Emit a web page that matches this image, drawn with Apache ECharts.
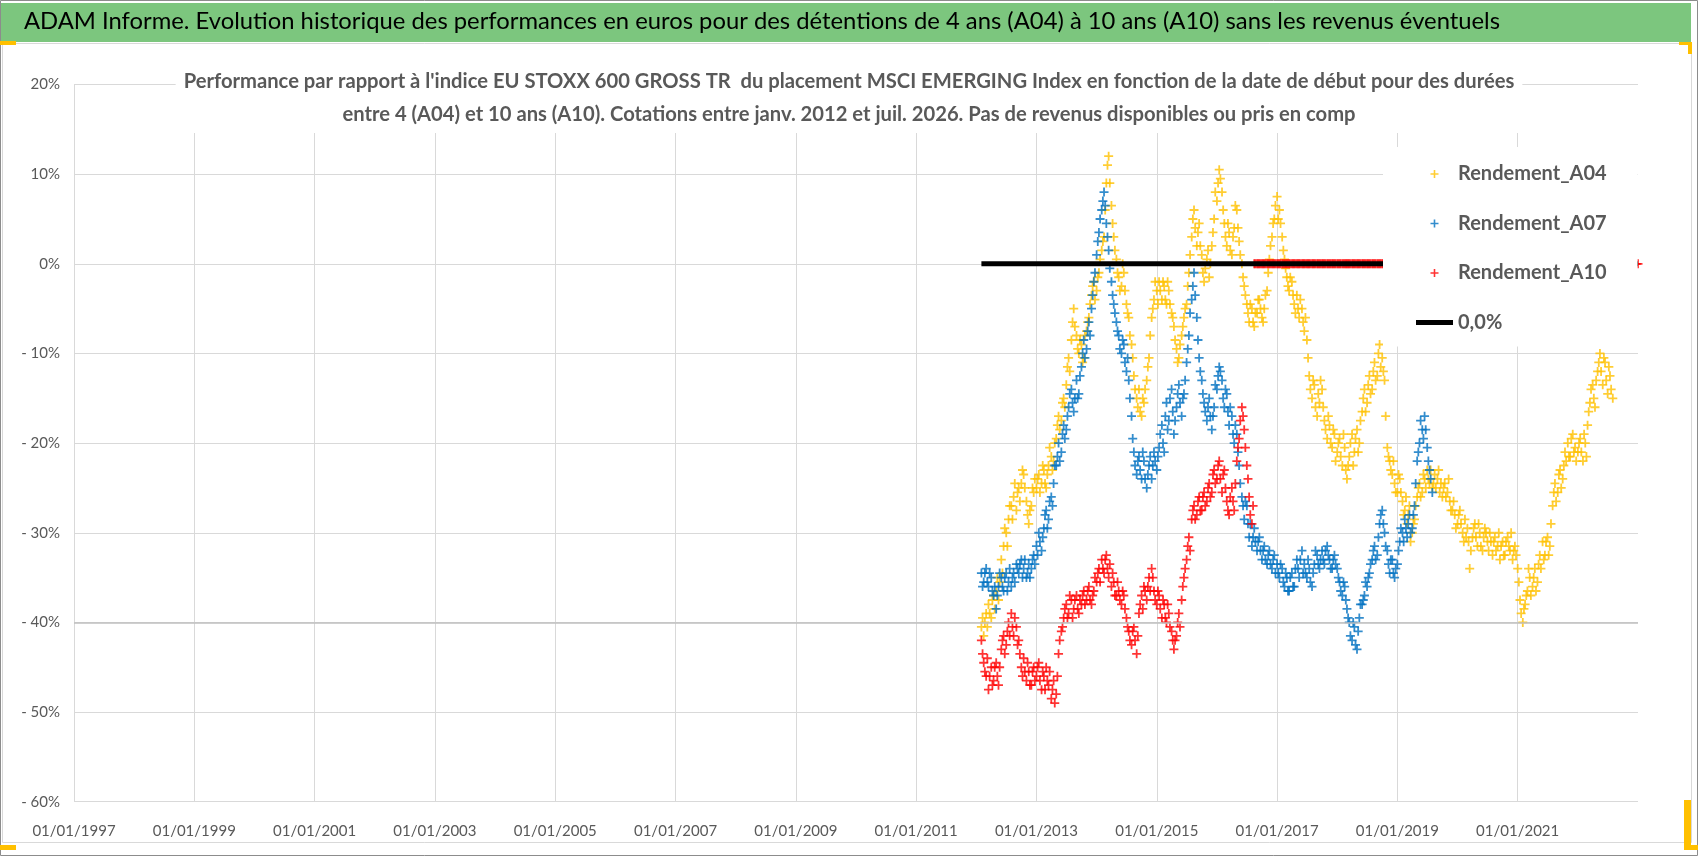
<!DOCTYPE html>
<html>
<head>
<meta charset="utf-8">
<title>ADAM Informe - MSCI EMERGING vs EU STOXX 600</title>
<script src="https://cdn.jsdelivr.net/npm/echarts@6/dist/echarts.min.js"></script>
<style>
html, body { margin: 0; padding: 0; background: #fff; }
#chart { width: 1698px; height: 856px; }
</style>
</head>
<body>
<div id="chart"></div>
<script>
// relevés hebdomadaires, en %, à partir de février 2012
// aXX  : relevés du 1er et du 15 de chaque mois
// aXXw : relevés du 8 et du 22 de chaque mois
var startDate = '2012-02-01';

var a04 = [
  -40.5,-41.5,-39,-38,-39.5,-37,-36.5,-37.5,-33,-31.5,-30,-28.5,-27,-26,-27.5,-25,-24.5,-23.5,-26.5,-29,-27,-25.5, // 2012
  -25,-23.5,-24.5,-23,-25,-22.5,-21.5,-22,-19.5,-17,-17.5,-15,-13.5,-10.5,-8.5,-5,-8,-10,-9,-10.5,-7.5,-6,-3.5,-2, // 2013
  -3,-1,1.5,3,9,12,6.5,3,0.5,-1.5,-2.5,-1,-4.5,-6,-9,-12.5,-15,-14,-17,-15.5,-13,-10.5,-6,-4, // 2014
  -3,-2,-4,-2.5,-4.5,-3,-5.5,-7,-9.5,-10.5,-8,-6,-4.5,-1,3,6,2,4.5,1,-2,0.5,-1.5,2,5, // 2015
  7,10.5,8,4.5,2,3.5,1,4,6,2.5,0,-2.5,-4.5,-6.5,-5,-7,-5.5,-4,-6,-5,-3,0.5,3,5, // 2016
  7.5,6,3,0.5,-1.5,-3,-2,-4.5,-3.5,-6,-5,-7.5,-8.5,-12.5,-15,-13.5,-17,-15.5,-14,-17.5,-19.5,-18,-20.5,-19, // 2017
  -21,-19.5,-22.5,-20.5,-24,-21.5,-19,-21,-18.5,-20,-16.5,-14,-15.5,-12.5,-14,-11,-12.5,-9,-10.5,-13,-20.5,-22,-23.5,-24.5, // 2018
  -25.5,-24,-26.5,-27.5,-29,-27,-30,-28.5,-26,-24.5,-25.5,-24,-23,-24.5,-25,-23.5,-24,-25.5,-26,-24.5,-25.5,-26.5,-27.5,-28, // 2019
  -29,-27.5,-30,-28.5,-29.5,-34,-30.5,-29,-31.5,-30,-32,-29.5,-31,-30,-32.5,-30.5,-31.5,-33,-31,-32.5,-30.5,-32,-33,-31.5, // 2020
  -34,-37.5,-40,-38,-36.5,-35,-36,-34,-35.5,-32.5,-31,-32.5,-30.5,-31.5,-27,-24.5,-25.5,-23,-24,-21,-20,-21.5,-19,-20.5, // 2021
  -21,-19.5,-22,-20,-18,-15.5,-13.5,-16,-12,-10,-13.5,-11,-14.5,-12.5,-15 // 2022
];
var a04w = [
  -39.5,-40,-40.5,-39,-37.5,-38.5,-35,-35.5,-34.5,-29.5,-31.5,-27,-28.5,-24.5,-25.5,-26.5,-23,-25,-28,-27.5,-25,-24, // 2012
  -24,-25.5,-22.5,-24.5,-23.5,-20.5,-23,-20,-18,-18.5,-15.5,-16,-11.5,-12,-6.5,-7,-9.5,-8.5,-11,-8,-6.5,-4.5,-2.5,-4, // 2013
  -1.5,0.5,2.5,6,11,9,4.5,1.5,-1,-3,0,-3,-5.5,-8,-10.5,-14,-16,-16.5,-15,-14,-11.5,-8,-5,-2, // 2014
  -4.5,-3,-2,-4,-2,-4.5,-6,-8.5,-11,-9,-7,-5,-2.5,1,5,4,3.5,2,-1,-0.5,1.5,0,3.5,8, // 2015
  9,9.5,6,3,4.5,1.5,3,6.5,4,1,-1.5,-3.5,-5.5,-4.5,-6.5,-5.5,-4,-5,-6.5,-3.5,-1,2,4.5,6.5, // 2016
  5,4.5,1.5,-0.5,-2.5,-1.5,-3.5,-5.5,-5,-4,-6.5,-6,-10.5,-14,-13,-16,-14.5,-13,-16,-18.5,-17,-20,-18.5,-22, // 2017
  -20,-21.5,-19,-23,-22.5,-20,-22.5,-19.5,-21,-17.5,-15,-16.5,-13.5,-14.5,-12,-13,-10,-11.5,-12,-17,-21.5,-23,-22,-25.5, // 2018
  -23.5,-25.5,-28,-26,-28,-31,-29,-27,-25,-26,-23.5,-25,-24,-23,-24.5,-25,-23,-24.5,-25,-26,-24,-27.5,-26.5,-29.5, // 2019
  -28,-29,-31,-30.5,-31,-32,-29.5,-30.5,-29,-31.5,-30.5,-30,-32,-31,-31,-32,-30,-31.5,-32.5,-31,-31.5,-30,-32,-32.5, // 2020
  -35.5,-39,-38.5,-37,-34,-37,-35,-36.5,-33.5,-34,-33,-31,-32.5,-29,-25.5,-26.5,-23.5,-25,-22.5,-22,-21.5,-19.5,-21,-22, // 2021
  -20,-21,-19,-21.5,-16.5,-14,-15,-13,-11,-12,-10.5,-13,-11.5,-14 // 2022
];

var a07 = [
  -34.5,-35.5,-34,-36,-35,-37,-38.5,-36,-35,-36.5,-34.5,-35.5,-36,-34.5,-33.5,-34.5,-33,-34,-35,-33.5,-34,-32.5, // 2012
  -31.5,-30,-32,-29.5,-27.5,-28.5,-26,-24.5,-22.5,-20,-21,-18,-18.5,-16,-14,-16.5,-13,-14.5,-11.5,-8.5,-9.5,-6.5,-5,-2, // 2013
  1,3.5,6,8,4.5,1.5,-2,-4.5,-6.5,-8,-10,-9,-12,-13,-17,-21,-23.5,-21.5,-24,-22,-25,-22.5,-24,-21, // 2014
  -23,-20.5,-18,-21,-15.5,-17.5,-14,-19,-16,-13.5,-17,-14.5,-11,-8,-4,-1,-6,-10.5,-13,-15.5,-17.5,-15,-18.5,-16, // 2015
  -14,-11.5,-13,-16,-14.5,-18,-17,-20,-19,-22.5,-26,-28.5,-27,-30.5,-31.5,-29.5,-32,-30.5,-33,-31.5,-33.5,-32,-34,-32.5, // 2016
  -33.5,-35,-34,-36,-35,-36.5,-34.5,-36,-33,-35,-32,-33.5,-35,-34,-36,-33.5,-32.5,-34,-32,-33.5,-31.5,-33,-34,-32.5, // 2017
  -34,-35.5,-37,-36,-38.5,-40,-42,-40.5,-43,-39.5,-38,-37,-36,-34.5,-33,-31.5,-32.5,-29,-27.5,-30,-32,-34.5,-33,-35, // 2018
  -33.5,-31,-30,-28.5,-30.5,-28,-29.5,-27,-22,-20,-18.5,-17,-20.5,-23,-25.5 // 2019
];
var a07w = [
  -36,-34.5,-35.5,-34.5,-36.5,-36,-37,-34.5,-36,-35,-36.5,-34,-35,-35.5,-34,-33.5,-35,-33,-34.5,-35,-33,-33.5, // 2012
  -32.5,-31,-30.5,-28,-29.5,-26.5,-27,-22.5,-21.5,-22,-19,-19.5,-17,-14.5,-15.5,-15,-15,-12.5,-10,-10.5,-7.5,-8,-3.5,-1, // 2013
  2.5,5,7,6.5,3,-0.5,-3.5,-5.5,-7.5,-9.5,-8.5,-11,-10.5,-15,-19.5,-22.5,-22,-23,-21,-24,-23.5,-21.5,-22.5,-22, // 2014
  -21.5,-19,-20,-17,-18.5,-15,-16.5,-17.5,-14.5,-15.5,-15,-13,-9.5,-5.5,-2.5,-3.5,-8.5,-12,-14.5,-16.5,-16,-17,-17,-13.5, // 2015
  -12.5,-12,-15,-14,-16.5,-16,-19,-18,-21,-24.5,-27,-26.5,-29,-29,-30.5,-31,-31,-32,-32,-33,-32.5,-33.5,-33,-34.5, // 2016
  -34.5,-33.5,-35.5,-34.5,-36.5,-35,-36,-34,-34,-33,-34.5,-34.5,-33,-35.5,-34.5,-32,-33.5,-33,-33,-32,-32.5,-34,-33,-33.5, // 2017
  -35,-36.5,-35.5,-37.5,-39.5,-41.5,-40,-42.5,-41,-38,-37.5,-35.5,-35,-33.5,-32,-33,-30.5,-28,-29,-31.5,-33.5,-33,-34.5,-34, // 2018
  -32,-29.5,-31,-29.5,-29,-30,-28,-24.5,-21,-17.5,-19.5,-18.5,-22,-24 // 2019
];

var a10 = [
  -42,-44.5,-46,-47.5,-45,-46.5,-44.5,-47,-43,-41.5,-42.5,-40,-39,-41.5,-40.5,-42,-45,-44,-46.5,-45.5,-47,-45, // 2012
  -46,-44.5,-47.5,-46,-45,-47,-48.5,-46.5,-48,-43.5,-41,-39.5,-38,-39,-37.5,-38.5,-37,-39,-38,-36.5,-37.5,-36,-38,-36.5, // 2013
  -35.5,-34,-33,-34.5,-32.5,-35,-36,-35.5,-37,-36.5,-38,-37,-39.5,-41,-42.5,-40.5,-43.5,-39,-37,-36,-37.5,-35,-34,-36.5, // 2014
  -38,-37,-39.5,-38,-40,-39,-41,-43,-41.5,-39,-37.5,-35,-33,-30.5,-28.5,-27,-28,-26,-27.5,-25.5,-26.5,-24.5,-25.5,-23, // 2015
  -24,-22,-25.5,-23,-26.5,-28,-25,-27.5,-22,-19.5,-16,-18.5,-22.5,-26,-29,0,0,0,0,0,0,0,0,0, // 2016
  0,0,0,0,0,0,0,0,0,0,0,0,0,0,0,0,0,0,0,0,0,0,0,0, // 2017
  0,0,0,0,0,0,0,0,0,0,0,0,0,0,0,0,0,0,0,0,0,0,0,0, // 2018
  0,0,0,0,0,0,0,0,0,0,0,0,0,0,0,0,0,0,0,0,0,0,0,0, // 2019
  0,0,0,0,0,0,0,0,0,0,0,0,0,0,0,0,0,0,0,0,0,0,0,0, // 2020
  0,0,0,0,0,0,0,0,0,0,0,0,0,0,0,0,0,0,0,0,0,0,0,0, // 2021
  0,0,0,0,0,0,0,0,0,0,0,0,0,0,0,0,0,0,0,0,0,0,0,0, // 2022
  0 // 2023
];
var a10w = [
  -43.5,-45.5,-44,-46,-47,-45,-46,-45,-42,-43.5,-41,-41.5,-40.5,-39.5,-42.5,-43.5,-46,-45.5,-44.5,-47,-45.5,-46.5, // 2012
  -45,-46.5,-45.5,-47.5,-46.5,-45.5,-47.5,-49,-46,-42,-40.5,-38.5,-39.5,-37,-39.5,-37.5,-38.5,-37.5,-37,-38,-36.5,-37.5,-37,-35, // 2013
  -34.5,-35.5,-34,-33,-34,-33.5,-34.5,-37,-35.5,-37.5,-36.5,-38.5,-40.5,-42,-41,-42,-41.5,-38,-38.5,-36.5,-36,-36.5,-35,-37.5, // 2014
  -36.5,-38.5,-37.5,-39.5,-38,-40.5,-42,-42,-40,-40.5,-36,-34,-31.5,-32,-27.5,-28.5,-26.5,-27.5,-26,-27,-25,-26,-23.5,-24.5, // 2015
  -22.5,-24,-23.5,-25,-27.5,-26,-26.5,-24.5,-20.5,-17.5,-17,-20.5,-24,-28,-27,0,0,0,0,0,0,0,0,0, // 2016
  0,0,0,0,0,0,0,0,0,0,0,0,0,0,0,0,0,0,0,0,0,0,0,0, // 2017
  0,0,0,0,0,0,0,0,0,0,0,0,0,0,0,0,0,0,0,0,0,0,0,0, // 2018
  0,0,0,0,0,0,0,0,0,0,0,0,0,0,0,0,0,0,0,0,0,0,0,0, // 2019
  0,0,0,0,0,0,0,0,0,0,0,0,0,0,0,0,0,0,0,0,0,0,0,0, // 2020
  0,0,0,0,0,0,0,0,0,0,0,0,0,0,0,0,0,0,0,0,0,0,0,0, // 2021
  0,0,0,0,0,0,0,0,0,0,0,0,0,0,0,0,0,0,0,0,0,0,0,0 // 2022
];

// série de référence 0,0%
var zeroDates = ['2012-02-01', '2023-01-01'];
var zeroValues = [0, 0];

// axes
var xMin = 1997, xMax = 2023, xStep = 2;
var yMin = -60, yMax = 20, yStep = 10;

var titleText = 'ADAM Informe. Evolution historique des performances en euros pour des détentions de 4 ans (A04) à 10 ans (A10) sans les revenus éventuels';
var subLine1 = "Performance par rapport à l'indice EU STOXX 600 GROSS TR  du placement MSCI EMERGING Index en fonction de la date de début pour des durées";
var subLine2 = 'entre 4 (A04) et 10 ans (A10). Cotations entre janv. 2012 et juil. 2026. Pas de revenus disponibles ou pris en comp';

// deux dates par mois (jours donnés) à partir de startDate
function monthDates(n, days) {
  var y0 = +startDate.slice(0, 4), m0 = +startDate.slice(5, 7) - 1;
  var out = [];
  for (var i = 0; i < n; i++) {
    var d = new Date(Date.UTC(y0, m0 + Math.floor(i / 2), days[i % 2]));
    out.push(d.toISOString().slice(0, 10));
  }
  return out;
}
// date -> année décimale (valeur sur l'axe des x)
function toYear(s) {
  var y = +s.slice(0, 4);
  var t0 = Date.UTC(y, 0, 1), t1 = Date.UTC(y + 1, 0, 1);
  return y + (Date.parse(s) - t0) / (t1 - t0);
}
function toPoints(values, days) {
  var dates = monthDates(values.length, days);
  return values.map(function (v, i) { return [toYear(dates[i]), v]; });
}
function seriesPoints(main, week) {
  return toPoints(main, [1, 15]).concat(toPoints(week, [8, 22]));
}

var font = 'Lato, "Liberation Sans", sans-serif';
var grey = '#595959';
var gridGrey = '#d9d9d9';
var plus = 'path://M4,0H6V4H10V6H6V10H4V6H0V4H4Z';

var myChart = echarts.init(document.getElementById('chart'), null, { renderer: 'canvas' });
var option = {
  animation: false,
  backgroundColor: '#fff',
  textStyle: { fontFamily: font },
  graphic: [
    { type: 'rect', z: -10, shape: { x: 0.5, y: 0.5, width: 1697, height: 855 }, style: { fill: '#fff', stroke: '#8c8c8c', lineWidth: 1 } },
    { type: 'rect', z: -9, shape: { x: 2.5, y: 43.5, width: 1689, height: 799 }, style: { fill: 'none', stroke: gridGrey, lineWidth: 1 } },
    { type: 'rect', z: -8, shape: { x: 1, y: 3, width: 1690, height: 39 }, style: { fill: '#7cc67e' } },
    // poignées de sélection (coins)
    { type: 'rect', shape: { x: 0, y: 41, width: 16, height: 4 }, style: { fill: '#ffc000' } },
    { type: 'rect', shape: { x: 1679, y: 42, width: 13, height: 3 }, style: { fill: '#ffc000' } },
    { type: 'rect', shape: { x: 1688, y: 42, width: 4, height: 12 }, style: { fill: '#ffc000' } },
    { type: 'rect', shape: { x: 0, y: 845, width: 16, height: 5 }, style: { fill: '#ffc000' } },
    { type: 'rect', shape: { x: 1684, y: 800, width: 7, height: 50 }, style: { fill: '#ffc000' } },
    { type: 'rect', shape: { x: 1684, y: 845, width: 14, height: 5 }, style: { fill: '#ffc000' } }
  ],
  title: [{
    text: titleText,
    left: 24,
    top: 9,
    padding: 0,
    textStyle: { fontFamily: font, fontSize: 23.8, fontWeight: 'normal', color: '#000' }
  }, {
    text: subLine1 + '\n' + subLine2,
    left: 841,
    textAlign: 'center',
    top: 63,
    padding: [2, 8, 2, 8],
    backgroundColor: '#fff',
    textStyle: { fontFamily: font, fontSize: 20.2, fontWeight: 'bold', color: grey, lineHeight: 33 }
  }],
  legend: {
    orient: 'vertical',
    left: 1383,
    top: 147,
    padding: [13, 31, 10, 33],
    backgroundColor: '#fff',
    itemWidth: 37,
    itemHeight: 8,
    itemGap: 21.5,
    selectedMode: false,
    data: [
      { name: 'Rendement_A04' },
      { name: 'Rendement_A07' },
      { name: 'Rendement_A10' },
      { name: '0,0%', icon: 'path://M0,0H37V5H0Z' }
    ],
    textStyle: { fontFamily: font, fontSize: 20, fontWeight: 'bold', color: grey, lineHeight: 28 }
  },
  grid: { left: 74, right: 60, top: 84.5, bottom: 54.3 },
  xAxis: {
    type: 'value',
    min: xMin,
    max: xMax,
    interval: xStep,
    axisLine: { show: false },
    axisTick: { show: false },
    axisLabel: {
      color: grey,
      fontFamily: font,
      fontSize: 15,
      margin: 22,
      showMaxLabel: false,
      formatter: function (v) { return '01/01/' + v; }
    },
    splitLine: { show: true, showMaxLine: false, lineStyle: { color: gridGrey, width: 1 } }
  },
  yAxis: {
    type: 'value',
    min: yMin,
    max: yMax,
    interval: yStep,
    axisLine: { show: false },
    axisTick: { show: false },
    axisLabel: {
      color: grey,
      fontFamily: font,
      fontSize: 15,
      margin: 14,
      formatter: function (v) { return v < 0 ? '- ' + (-v) + '%' : v + '%'; }
    },
    splitLine: { lineStyle: { color: gridGrey, width: 1 } }
  },
  series: [{
    name: '0,0%',
    type: 'line',
    symbol: 'none',
    silent: true,
    data: zeroDates.map(function (d, i) { return [toYear(d), zeroValues[i]]; }),
    lineStyle: { color: '#000', width: 5 },
    itemStyle: { color: '#000' },
    // ligne de l'axe horizontal (croise à -40%)
    markLine: {
      silent: true,
      symbol: 'none',
      label: { show: false },
      lineStyle: { color: '#bfbfbf', width: 1.5, type: 'solid' },
      data: [{ yAxis: -40 }]
    }
  }, {
    name: 'Rendement_A04',
    type: 'scatter',
    symbol: plus,
    symbolSize: 9,
    itemStyle: { color: '#ffc000' },
    data: seriesPoints(a04, a04w)
  }, {
    name: 'Rendement_A07',
    type: 'scatter',
    symbol: plus,
    symbolSize: 9,
    itemStyle: { color: '#0070c0' },
    data: seriesPoints(a07, a07w)
  }, {
    name: 'Rendement_A10',
    type: 'scatter',
    symbol: plus,
    symbolSize: 9,
    itemStyle: { color: '#ff0000' },
    data: seriesPoints(a10, a10w)
  }]
};
myChart.setOption(option);
window.addEventListener('resize', function () {
  myChart.resize();
});
</script>
</body>
</html>
